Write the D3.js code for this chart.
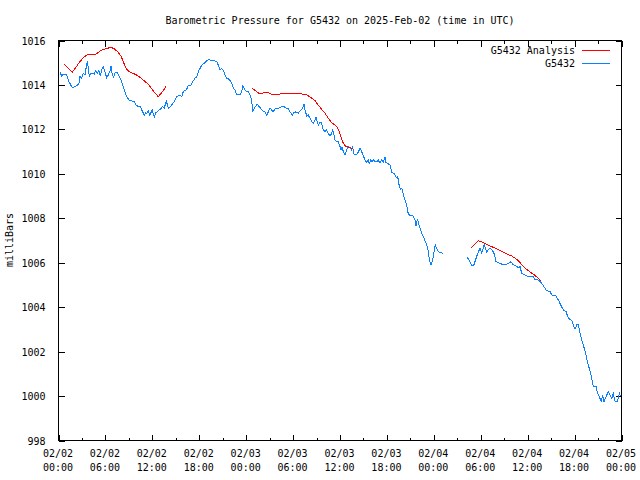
<!DOCTYPE html>
<html><head><meta charset="utf-8">
<script src="https://cdn.jsdelivr.net/npm/d3@7"></script>
<style>
html,body{margin:0;padding:0;background:#fff;}
text{font-family:"DejaVu Sans Mono",monospace;font-size:10px;fill:#000;}
</style></head><body>
<svg id="c" width="640" height="480"></svg>
<script>
// ---- data (hours since 2025-02-02 00:00 UTC, pressure in mb); null marks a gap ----
const obsHours = [0.26,0.47,0.68,1.11,1.41,1.83,2.26,2.52,2.69,2.81,3.03,3.24,3.45,3.62,3.75,3.88,4.0,4.18,4.44,4.64,4.82,5.03,5.24,5.41,5.59,5.79,6.01,6.23,6.43,6.65,6.78,6.94,7.12,7.29,7.42,7.64,7.84,8.15,8.35,8.57,8.79,9.08,9.43,9.76,9.98,10.27,10.53,10.78,11.04,11.22,11.38,11.55,11.73,11.89,12.06,12.19,12.32,12.53,12.83,13.08,13.34,13.59,13.85,14.11,14.36,14.62,14.87,
15.18,15.60,15.82,16.02,16.46,16.66,16.97,17.23,17.52,17.74,17.94,18.16,18.38,18.67,19.02,19.31,19.53,19.78,20.08,20.30,20.50,20.72,20.94,21.14,21.36,21.58,21.91,22.22,22.42,22.64,22.85,23.28,23.49,23.62,23.79,24.04,24.34,24.56,24.77,24.90,25.07,25.23,25.49,25.74,26.0,26.26,26.47,26.69,26.90,27.11,27.33,27.53,27.79,28.17,28.61,28.90,29.16,29.45,29.67,29.97,30.18,30.44,30.73,31.04,31.30,31.46,31.59,31.81,32.01,32.23,32.45,32.65,32.87,33.0,33.16,33.29,33.51,33.72,33.93,34.15,34.36,34.57,34.79,35.0,35.13,35.30,35.43,35.64,35.85,36.07,36.19,36.32,36.49,36.71,36.92,37.13,37.34,37.56,37.69,37.86,38.11,38.37,38.62,38.84,39.05,39.26,39.48,39.68,39.81,39.99,40.16,40.32,40.54,40.76,40.96,41.18,41.40,41.60,41.82,41.95,42.11,42.46,42.68,42.97,43.23,43.39,43.52,43.65,43.83,43.96,44.08,44.25,44.42,44.60,44.72,44.93,45.24,45.44,45.66,45.79,45.95,46.08,46.21,46.39,46.59,46.81,47.06,47.23,47.36,47.45,47.58,47.70,47.92,48.09,48.25,48.43,48.64,48.94,49.28,
null,
52.35,52.69,52.98,53.20,53.46,53.68,53.97,54.19,54.35,54.52,54.68,54.83,55.16,55.47,55.80,56.02,56.53,56.95,57.30,57.59,57.90,58.23,58.58,58.87,59.09,59.30,59.72,60.15,60.79,61.0,61.43,61.86,62.28,62.50,62.92,63.14,63.69,63.99,64.29,64.63,64.97,65.26,65.70,65.90,66.12,66.34,66.54,66.76,66.98,67.18,67.49,67.69,67.95,68.21,68.46,68.81,69.02,69.23,69.45,69.66,69.83,70.09,70.38,70.60,70.82,71.02,71.24,71.53,71.79,71.94];
const obsPressure = [1014.55,1014.38,1014.46,1014.43,1014.12,1013.85,1013.93,1013.98,1014.08,1014.35,1014.28,1014.50,1014.43,1014.80,1015.06,1014.73,1014.35,1014.50,1014.50,1014.46,1014.62,1014.50,1014.62,1014.38,1014.65,1014.80,1014.55,1014.30,1014.43,1014.60,1014.83,1014.43,1014.32,1014.50,1014.57,1014.50,1014.35,1014.12,1013.90,1013.67,1013.45,1013.30,1013.26,1013.22,1013.08,1013.00,1013.00,1012.80,1012.62,1012.73,1012.70,1012.82,1012.62,1012.73,1012.85,1012.67,1012.52,1012.73,1012.82,1012.88,1013.00,1012.93,1013.26,1012.93,1013.00,1013.12,1013.22,
1013.45,1013.53,1013.45,1013.67,1013.78,1013.97,1013.93,1014.12,1014.28,1014.35,1014.57,1014.72,1014.87,1014.95,1015.06,1015.13,1015.07,1015.06,1015.06,1015.02,1014.87,1014.65,1014.73,1014.62,1014.43,1014.28,1014.23,1014.05,1013.83,1013.75,1013.53,1013.53,1013.67,1013.93,1013.83,1013.70,1013.67,1013.53,1013.30,1012.80,1012.88,1013.00,1013.11,1013.00,1012.88,1012.80,1012.77,1012.62,1012.77,1012.93,1012.85,1012.77,1012.93,1012.93,1013.00,1013.00,1012.93,1012.93,1012.77,1012.62,1012.73,1012.77,1012.70,1012.85,1012.93,1013.12,1012.85,1012.58,1012.62,1012.48,1012.32,1012.25,1012.40,1012.52,1012.32,1012.17,1012.32,1012.25,1011.95,1011.88,1011.95,1011.80,1011.68,1011.80,1011.95,1011.73,1011.50,1011.42,1011.42,1011.20,1011.05,1011.20,1010.97,1010.83,1011.05,1011.20,1011.13,1011.05,1011.17,1010.87,1010.83,1010.93,1011.13,1010.97,1010.78,1010.60,1010.48,1010.60,1010.45,1010.60,1010.52,1010.63,1010.52,1010.52,1010.60,1010.45,1010.60,1010.52,1010.72,1010.48,1010.45,1010.38,1010.03,1010.00,1009.82,1009.85,1009.73,1009.40,1009.28,1009.33,1009.18,1008.95,1008.77,1008.57,1008.27,1008.12,1008.12,1008.08,1007.90,1007.63,1007.90,1007.82,1007.63,1007.45,1007.22,1007.08,1006.85,1006.70,1006.46,1006.25,1006.01,1005.87,1006.10,1006.47,1006.77,1006.62,1006.47,1006.43,1006.40,
null,
1006.22,1006.02,1005.83,1005.89,1006.17,1006.40,1006.62,1006.40,1006.59,1006.82,1006.59,1006.47,1006.62,1006.58,1006.37,1006.02,1005.95,1005.88,1005.88,1005.95,1006.02,1005.88,1005.83,1005.75,1005.80,1005.50,1005.43,1005.35,1005.35,1005.23,1005.20,1005.05,1004.83,1004.72,1004.68,1004.53,1004.48,1004.30,1004.08,1003.85,1003.78,1003.48,1003.37,1003.18,1002.98,1003.18,1003.18,1002.80,1002.50,1002.27,1001.90,1001.52,1001.22,1000.85,1000.43,1000.40,1000.10,999.95,999.73,999.98,999.73,999.95,1000.17,1000.02,999.88,1000.10,999.73,999.73,1000.10,999.98];

const anaHours = [0.81,1.32,1.83,2.26,2.69,3.24,3.80,4.31,4.73,5.24,5.79,6.36,6.78,7.20,7.64,8.06,8.35,8.66,9.08,9.63,10.27,10.91,11.55,12.32,12.83,13.34,13.81,
null,
24.85,25.32,25.83,26.47,26.90,27.53,28.17,28.61,29.25,31.17,31.81,32.45,32.87,33.29,33.72,34.15,34.57,35.0,35.43,35.72,35.98,36.19,36.49,36.83,37.26,37.77,
null,
52.78,53.33,53.75,54.39,55.03,55.67,56.53,57.38,58.02,58.66,59.09,59.51,60.15,60.79,61.30,61.73];
const anaPressure = [1014.92,1014.73,1014.55,1014.75,1014.98,1015.20,1015.36,1015.33,1015.33,1015.47,1015.58,1015.63,1015.67,1015.60,1015.47,1015.28,1015.02,1014.75,1014.57,1014.50,1014.38,1014.20,1014.01,1013.65,1013.45,1013.67,1013.90,
null,
1013.83,1013.70,1013.57,1013.65,1013.63,1013.53,1013.53,1013.60,1013.60,1013.57,1013.53,1013.38,1013.27,1013.07,1012.88,1012.70,1012.48,1012.28,1012.17,1012.07,1011.87,1011.62,1011.35,1011.20,1011.17,1011.08,
null,
1006.63,1006.82,1006.97,1006.88,1006.77,1006.67,1006.52,1006.37,1006.28,1006.13,1005.98,1005.80,1005.62,1005.46,1005.32,1005.17];

const yTicks = [998,1000,1002,1004,1006,1008,1010,1012,1014,1016];
const xTickHours = [0,6,12,18,24,30,36,42,48,54,60,66,72];
const xMinorHours = [3,9,15,21,27,33,39,45,51,57,63,69];
const titleText = "Barometric Pressure for G5432 on 2025-Feb-02 (time in UTC)";
const yLabel = "milliBars";
const seriesNames = ["G5432 Analysis","G5432"];
const seriesColors = ["#ff0000","#0a80ff"];

// ---- drawing ----
const start = Date.UTC(2025,1,2,0,0);
const toDate = h => new Date(start + h*3600000);
const L=58,R=621,T=40,B=440;
const svg = d3.select("#c");
const x = d3.scaleUtc().domain([toDate(0),toDate(72)]).range([L,R]);
const y = d3.scaleLinear().domain([998,1016]).range([B,T]);

svg.append("text").attr("x",340).attr("y",24).attr("text-anchor","middle").text(titleText);

// border
svg.append("rect").attr("x",L+0.5).attr("y",T+0.5).attr("width",R-L).attr("height",B-T)
  .attr("fill","none").attr("stroke","#000").attr("stroke-width",1).attr("shape-rendering","crispEdges");

const fmt1 = d3.utcFormat("%m/%d"), fmt2 = d3.utcFormat("%H:%M");
const xb = svg.append("g").attr("transform",`translate(0.5,${B+0.5})`)
  .call(d3.axisBottom(x).tickValues(xTickHours.map(toDate)).tickSize(-6).tickFormat(""));
const xbm = svg.append("g").attr("transform",`translate(0.5,${B+0.5})`)
  .call(d3.axisBottom(x).tickValues(xMinorHours.map(toDate)).tickSize(-3).tickFormat(""));
const xt = svg.append("g").attr("transform",`translate(0.5,${T+0.5})`)
  .call(d3.axisTop(x).tickValues(xTickHours.map(toDate)).tickSize(-6).tickFormat(""));
const xtm = svg.append("g").attr("transform",`translate(0.5,${T+0.5})`)
  .call(d3.axisTop(x).tickValues(xMinorHours.map(toDate)).tickSize(-3).tickFormat(""));
const yl = svg.append("g").attr("transform",`translate(${L+0.5},0.5)`)
  .call(d3.axisLeft(y).tickValues(yTicks).tickSize(-6).tickPadding(13).tickFormat(d3.format("d")));
const yr = svg.append("g").attr("transform",`translate(${R+0.5},0.5)`)
  .call(d3.axisRight(y).tickValues(yTicks).tickSize(-6).tickFormat(""));
[xb,xbm,xt,xtm,yl,yr].forEach(g=>{
  g.select(".domain").remove();
  g.selectAll("line").attr("stroke","#000").attr("shape-rendering","crispEdges");
  g.selectAll("text").attr("font-family",null).attr("font-size",null).attr("fill","#000");
});
yl.selectAll("text").attr("dy","0.35em");

// two-line x labels
const lab = svg.append("g");
xTickHours.forEach(h=>{
  const d = toDate(h);
  const t = lab.append("text").attr("text-anchor","middle").attr("x",x(d)).attr("y",457);
  t.append("tspan").attr("x",x(d)).text(fmt1(d));
  t.append("tspan").attr("x",x(d)).attr("dy",14).text(fmt2(d));
});

svg.append("text").attr("transform","translate(13,240) rotate(-90)")
  .attr("text-anchor","middle").text(yLabel);

const line = d3.line().defined(d=>d[0]!==null && d[1]!==null)
  .x(d=>x(toDate(d[0]))).y(d=>y(d[1]));
const obs = obsHours.map((h,i)=>[h,obsPressure[i]]);
const ana = anaHours.map((h,i)=>[h,anaPressure[i]]);
svg.append("path").datum(obs).attr("d",line).attr("fill","none")
  .attr("stroke",seriesColors[1]).attr("stroke-width",1).attr("shape-rendering","crispEdges");
svg.append("path").datum(ana).attr("d",line).attr("fill","none")
  .attr("stroke",seriesColors[0]).attr("stroke-width",1).attr("shape-rendering","crispEdges");

// legend
seriesNames.forEach((n,i)=>{
  const yy = 50 + i*13;
  svg.append("text").attr("x",575).attr("y",yy).attr("dy","0.35em").attr("text-anchor","end").text(n);
  svg.append("line").attr("x1",582).attr("x2",610).attr("y1",yy+0.5).attr("y2",yy+0.5)
    .attr("stroke",seriesColors[i]).attr("stroke-width",1).attr("shape-rendering","crispEdges");
});
</script></body></html>
